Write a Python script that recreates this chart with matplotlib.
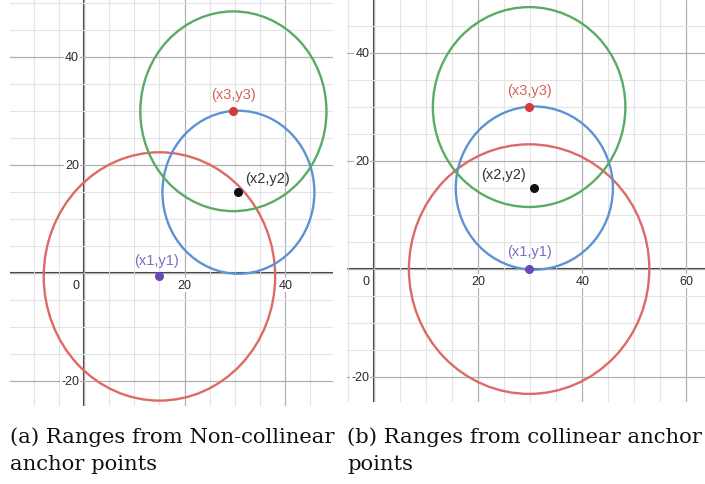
import matplotlib.pyplot as plt
from matplotlib.patches import Circle
from matplotlib.ticker import MultipleLocator

# anchor points and ranges, panel (a): non-collinear
a_x = [15.0, 30.7, 29.7]
a_y = [-0.6, 15.0, 30.0]
a_r = [23.0, 15.1, 18.5]

# panel (b): collinear
b_x = [29.8, 30.8, 29.8]
b_y = [0.0, 15.0, 30.0]
b_r = [23.1, 15.1, 18.5]

names = ['(x1,y1)', '(x2,y2)', '(x3,y3)']
circle_colors = ['#dc6a66', '#5b93d3', '#5aab64']
point_colors = ['#6a48b8', '#111111', '#d33a3a']
label_colors = ['#8468c6', '#333333', '#d9605a']

plt.rcParams['font.family'] = 'Liberation Sans'

W, H = 705, 485
fig = plt.figure(figsize=(W / 100, H / 100), dpi=100)


def make_panel(box, xlim, ylim, xs, ys, rs, label_offsets, xticks, yticks):
    ax = fig.add_axes(box)
    ax.set_xlim(*xlim)
    ax.set_ylim(*ylim)
    ax.xaxis.set_major_locator(MultipleLocator(20))
    ax.yaxis.set_major_locator(MultipleLocator(20))
    ax.xaxis.set_minor_locator(MultipleLocator(5))
    ax.yaxis.set_minor_locator(MultipleLocator(5))
    ax.grid(True, which='minor', color='#e4e4e4', lw=0.8, zorder=0)
    ax.grid(True, which='major', color='#b0b0b0', lw=0.9, zorder=0)
    ax.tick_params(which='both', length=0, labelbottom=False, labelleft=False)
    for s in ax.spines.values():
        s.set_visible(False)
    ax.axhline(0, color='#3a3a3a', lw=1.5, zorder=1)
    ax.axvline(0, color='#3a3a3a', lw=1.5, zorder=1)

    for i in range(3):
        ax.add_patch(Circle((xs[i], ys[i]), rs[i], fill=False,
                            ec=circle_colors[i], lw=1.7, zorder=2))
    # tick labels with white background
    for t in yticks:
        ax.annotate(str(t), (0, t), xytext=(-3.5, 0), textcoords='offset points',
                    ha='right', va='center', fontsize=9, color='#2a2a2a',
                    bbox=dict(boxstyle='square,pad=0.1', fc='white', ec='none'),
                    zorder=3)
    for t in xticks:
        ax.annotate(str(t), (t, 0), xytext=(0, -8.5), textcoords='offset points',
                    ha='center', va='center', fontsize=9, color='#2a2a2a',
                    bbox=dict(boxstyle='square,pad=0.1', fc='white', ec='none'),
                    zorder=3)
    ax.annotate('0', (0, 0), xytext=(-6, -8.5), textcoords='offset points',
                ha='center', va='center', fontsize=9, color='#2a2a2a', zorder=3)

    for i in range(3):
        ax.plot(xs[i], ys[i], 'o', ms=5.5, color=point_colors[i], zorder=4)
        ax.annotate(names[i], (xs[i], ys[i]), xytext=label_offsets[i],
                    textcoords='offset points', ha='center', va='center',
                    fontsize=10.5, color=label_colors[i], zorder=5)
    return ax


make_panel([10 / W, 1 - 407 / H, 323 / W, 407 / H], (-14.7, 49.5), (-24.6, 50.8),
           a_x, a_y, a_r, [(-2, 12), (21, 10.6), (0, 12.7)], [20, 40], [40, 20, -20])
make_panel([347 / W, 1 - 403 / H, 358 / W, 403 / H], (-5.2, 63.6), (-24.6, 50.0),
           b_x, b_y, b_r, [(0, 13), (-22, 10), (0, 12)], [20, 40, 60], [40, 20, -20])

cap = dict(fontsize=15.2, family='DejaVu Serif', va='center', ha='left', color='#111111')
fig.text(10 / W, 1 - 437 / H, '(a) Ranges from Non-collinear', **cap)
fig.text(10 / W, 1 - 465 / H, 'anchor points', **cap)
fig.text(347 / W, 1 - 437 / H, '(b) Ranges from collinear anchor', **cap)
fig.text(347 / W, 1 - 465 / H, 'points', **cap)

plt.savefig('out.png', dpi=100)
